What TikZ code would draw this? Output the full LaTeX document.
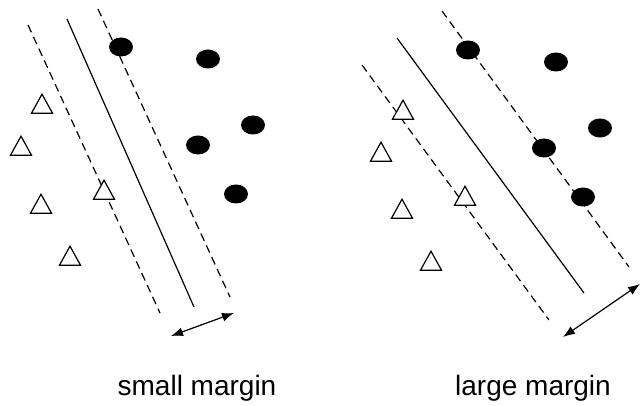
\documentclass[tikz,border=0pt]{standalone}
\usepackage{fontspec}
\setmainfont{Liberation Sans}
\usetikzlibrary{shapes.geometric,arrows.meta}
\tikzset{
  dot/.style={ellipse,fill=black,draw=none,minimum width=24pt,minimum height=19pt,inner sep=0pt},
  tri/.style={isosceles triangle,isosceles triangle stretches,shape border rotate=90,draw=black,line width=1.2pt,fill=white,minimum width=21pt,minimum height=19pt,inner sep=0pt},
  hyper/.style={line width=1.2pt},
  marginline/.style={line width=1.2pt,dash pattern=on 8pt off 5pt},
  widtharrow/.style={line width=1.2pt,{Latex[length=12pt,width=9pt]}-{Latex[length=12pt,width=9pt]}},
  lbl/.style={font=\fontsize{28}{33}\selectfont,inner sep=0pt,anchor=base}
}
\begin{document}
\begin{tikzpicture}[x=1pt,y=-1pt]
\useasboundingbox (0,0) rectangle (641,406);
% ---------- left panel ----------
\coordinate (l1a) at (28,25);  \coordinate (l1b) at (160,313);
\coordinate (s1a) at (67,19);  \coordinate (s1b) at (194,307);
\coordinate (r1a) at (98,9);   \coordinate (r1b) at (230,297);
\draw[marginline] (l1a) -- (l1b);
\draw[hyper] (s1a) -- (s1b);
\draw[marginline] (r1a) -- (r1b);
\node[dot] (c11) at (121,47) {};
\node[dot] (c12) at (208,59) {};
\node[dot] (c13) at (253,125) {};
\node[dot] (c14) at (198,145) {};
\node[dot] (c15) at (236,194) {};
\node[tri] (t11) at (42,107) {};
\node[tri] (t12) at (21,149) {};
\node[tri] (t13) at (41,207) {};
\node[tri] (t14) at (104,193) {};
\node[tri] (t15) at (70,259) {};
\coordinate (a1s) at (171,336);
\coordinate (a1e) at (234,313);
\draw[widtharrow] (a1s) -- (a1e);
\node[lbl] (lab1) at (197,396) {small margin};
% ---------- right panel ----------
\coordinate (l2a) at (362,65);  \coordinate (l2b) at (549,320);
\coordinate (s2a) at (397,38);  \coordinate (s2b) at (584,293);
\coordinate (r2a) at (442,11);  \coordinate (r2b) at (629,267);
\draw[marginline] (l2a) -- (l2b);
\draw[hyper] (s2a) -- (s2b);
\draw[marginline] (r2a) -- (r2b);
\node[dot] (c21) at (468,50) {};
\node[dot] (c22) at (556,62) {};
\node[dot] (c23) at (600,128) {};
\node[dot] (c24) at (544,148) {};
\node[dot] (c25) at (583,197) {};
\node[tri] (t21) at (403,113) {};
\node[tri] (t22) at (381,155) {};
\node[tri] (t23) at (402,212) {};
\node[tri] (t24) at (465,199) {};
\node[tri] (t25) at (431,264) {};
\coordinate (a2s) at (563,337);
\coordinate (a2e) at (640,284);
\draw[widtharrow] (a2s) -- (a2e);
\node[lbl] (lab2) at (533,396) {large margin};
\end{tikzpicture}
\end{document}
